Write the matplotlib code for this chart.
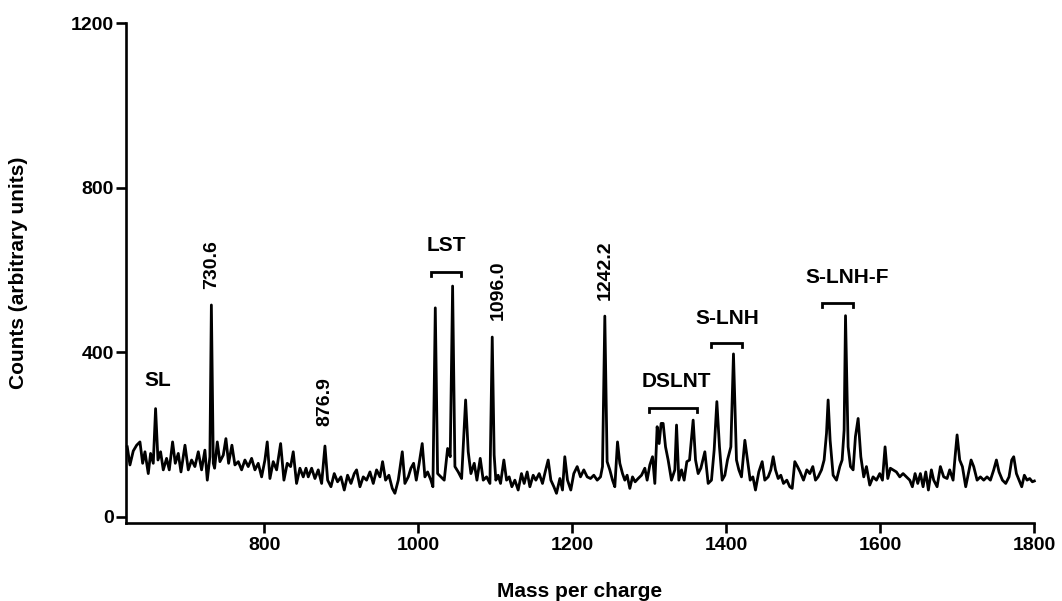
import matplotlib
matplotlib.use("Agg")
import matplotlib.pyplot as plt

plt.rcParams['font.family'] = ['Liberation Sans', 'DejaVu Sans']
plt.rcParams['font.weight'] = 'bold'

# ---- spectrum (mass per charge, counts) ----
mz = [621.7, 625.2, 629.5, 633.9, 638.2, 641.7, 644.7, 649.0, 652.0, 655.5, 658.5, 661.6, 665.0, 668.5,
      672.8, 676.3, 680.6, 684.1, 688.0, 691.5, 696.7, 701.0, 705.3, 709.6, 714.0, 718.3, 722.6, 725.7,
      729.1, 731.0, 733.5, 735.2, 738.7, 742.1, 746.5, 749.9, 753.4, 757.7, 761.6, 766.0, 770.3, 774.6,
      778.9, 783.3, 787.6, 791.9, 796.3, 800.6, 803.6, 807.1, 811.4, 815.8, 821.0, 825.3, 829.6, 834.0,
      837.4, 841.7, 846.1, 850.4,
      854.0, 856.9, 861.3, 865.6, 869.9, 874.3, 878.6, 882.1, 886.4, 890.7, 895.0, 899.4, 903.7, 908.0,
      912.4, 916.7, 919.7, 924.1, 928.4, 932.7, 937.1, 941.4, 945.7, 950.1, 953.5, 957.4, 961.7, 966.1,
      969.5, 973.9, 979.1, 982.5, 986.9, 990.3, 993.8, 997.3, 1000.7, 1005.0, 1008.5, 1012.0, 1016.3,
      1018.9, 1022.0, 1025.0, 1029.3, 1033.6, 1038.0, 1041.4, 1044.5, 1047.5, 1051.8, 1056.2, 1061.4,
      1064.8, 1068.3, 1072.6, 1076.1, 1080.4, 1084.3, 1088.6, 1093.0, 1096.0, 1098.5, 1100.7,
      1103.7, 1106.8, 1111.1, 1114.6, 1118.0, 1121.5, 1125.4, 1129.7, 1134.0, 1137.5, 1141.4, 1144.9,
      1149.2, 1152.7, 1157.0, 1161.3, 1164.8, 1168.7, 1172.2, 1176.1, 1179.5, 1183.9, 1187.3, 1190.3,
      1193.8, 1198.1, 1202.0, 1206.4, 1210.7, 1215.0, 1219.4, 1223.7, 1228.0, 1232.4, 1236.7, 1239.3,
      1242.3, 1245.3, 1248.8, 1252.3, 1255.3, 1258.8, 1261.8, 1265.3, 1268.3, 1271.3, 1274.8, 1278.3,
      1281.7, 1285.6, 1290.0, 1294.3, 1297.3, 1300.8, 1304.3, 1307.3, 1310.3, 1312.9, 1315.5, 1318.1,
      1321.2, 1324.6, 1328.9, 1333.3,
      1335.5, 1338.5, 1342.0, 1345.4, 1348.9, 1352.4, 1357.1, 1360.2, 1363.6, 1367.1, 1372.3, 1376.6,
      1380.9, 1384.4, 1387.9, 1391.3, 1394.8, 1398.3, 1401.7, 1406.1, 1409.5, 1413.4, 1416.5, 1419.9,
      1424.3, 1427.7, 1431.2, 1434.7, 1438.1, 1442.4, 1446.8, 1450.2, 1454.6, 1458.0, 1461.1, 1464.1,
      1467.6, 1471.0, 1474.5, 1478.8, 1482.7, 1485.8, 1489.2, 1492.7, 1496.1, 1500.5, 1504.8, 1508.7,
      1512.6, 1516.1, 1519.5, 1523.9, 1527.3, 1530.4, 1532.5, 1535.1, 1539.0, 1543.4, 1547.7, 1550.7,
      1553.3, 1555.1, 1558.5, 1561.6, 1565.0, 1568.0, 1571.5, 1575.0, 1578.8,
      1582.3, 1586.6, 1590.9, 1595.3, 1599.6, 1603.1, 1606.5, 1610.0, 1613.4, 1616.9, 1621.2, 1625.6,
      1629.9, 1634.2, 1638.6, 1642.0, 1645.5, 1649.0, 1652.4, 1655.9, 1659.4, 1662.8, 1666.7, 1669.7,
      1674.1, 1678.4, 1682.7, 1687.1, 1690.5, 1694.9, 1697.5, 1700.1, 1703.5, 1707.0, 1711.3, 1714.8,
      1718.3, 1721.7, 1726.1, 1730.4, 1734.7, 1739.0, 1743.4, 1747.7, 1751.2, 1754.6, 1759.0, 1763.3,
      1767.6, 1771.1, 1773.7, 1777.2, 1780.6, 1784.1, 1787.5, 1791.0, 1794.5, 1797.9, 1800.5]

counts = [170, 126, 160, 174, 182, 130, 158, 105, 154, 130, 263, 138, 158, 114,
          142, 114, 182, 130, 154, 109, 174, 114, 138, 122, 158, 114, 162, 89,
          146, 515, 130, 118, 182, 134, 150, 190, 130, 174, 126, 134, 114, 138,
          122, 142, 114, 130, 97, 138, 182, 93, 134, 114, 178, 89, 130, 122,
          158, 81, 118, 97,
          118, 97, 118, 93, 114, 81, 172, 89, 73, 105, 85, 97, 65, 101,
          81, 105, 114, 73, 97, 89, 109, 81, 114, 97, 134, 89, 101, 69,
          57, 89, 158, 81, 97, 118, 130, 89, 126, 178, 97, 109, 89,
          73, 508, 105, 97, 89, 166, 146, 561, 122, 109, 93, 284,
          158, 105, 130, 89, 142, 89, 97, 81, 437, 150, 89,
          101, 81, 138, 89, 97, 73, 89, 65, 105, 81, 109, 73,
          101, 89, 105, 81, 109, 138, 89, 73, 57, 93, 65, 146,
          89, 65, 105, 122, 97, 114, 97, 93, 101, 89, 97, 122,
          488, 134, 114, 89, 73, 182, 130, 105, 89, 101, 69, 97,
          85, 93, 101, 118, 89, 126, 146, 81, 219, 178, 227, 227,
          170, 138, 89, 114,
          223, 89, 114, 89, 134, 138, 235, 138, 105, 118, 158, 81,
          89, 162, 280, 170, 89, 101, 138, 170, 396, 138, 114, 97,
          186, 138, 89, 97, 65, 109, 134, 89, 97, 114, 146, 114,
          93, 101, 81, 89, 73, 69, 134, 122, 109, 89, 114, 105,
          122, 89, 97, 114, 138, 203, 284, 186, 101, 89, 122, 138,
          211, 489, 170, 122, 114, 195, 239, 146, 97,
          122, 77, 97, 89, 105, 89, 170, 93, 118, 114, 109, 97,
          105, 97, 89, 73, 105, 81, 105, 73, 109, 65, 114, 89,
          73, 122, 97, 93, 114, 89, 146, 199, 138, 122, 73, 105,
          138, 122, 89, 97, 89, 97, 89, 114, 138, 109, 89, 81,
          97, 138, 146, 105, 89, 73, 101, 89, 93, 85, 87]

# ---- annotations ----
group_names = ['LST', 'DSLNT', 'S-LNH', 'S-LNH-F']
bracket_start = [1016, 1300, 1380, 1525]
bracket_end = [1055, 1362, 1420, 1565]
bracket_level = [595, 264, 423, 521]
group_label_x = [1036, 1335, 1402, 1557]
group_label_y = [660, 328, 482, 583]

single_names = ['SL']
single_x = [662]
single_y = [332]

peak_texts = ['730.6', '876.9', '1096.0', '1242.2']
peak_text_x = [731, 878.5, 1103.5, 1242.3]
peak_text_y = [553, 220, 478, 527]

x_ticks = [800, 1000, 1200, 1400, 1600, 1800]
y_ticks = [0, 400, 800, 1200]

fig = plt.figure(figsize=(10.62, 6.01), dpi=100)
ax = fig.add_axes([0.1186, 0.1306, 0.8550, 0.8306])
ax.plot(mz, counts, color='black', lw=2.0, solid_joinstyle='round', clip_on=False)

ax.set_xlim(620, 1800)
ax.set_ylim(-14, 1200)
ax.set_xticks(x_ticks)
ax.set_yticks(y_ticks)
for s in ['top', 'right']:
    ax.spines[s].set_visible(False)
for s in ['left', 'bottom']:
    ax.spines[s].set_linewidth(1.9)
ax.tick_params(axis='y', width=1.9, length=7.5, labelsize=14, pad=1)
ax.tick_params(axis='x', width=1.9, length=7.5, labelsize=14, pad=3)
for lab in ax.get_xticklabels() + ax.get_yticklabels():
    lab.set_fontweight('bold')

ax.set_xlabel('Mass per charge', fontsize=15, fontweight='bold', labelpad=20)
ax.set_ylabel('Counts (arbitrary units)', fontsize=15, fontweight='bold', labelpad=31)

fs_group = 15
fs_num = 14
for name, x0, x1, lvl, lx, ly in zip(group_names, bracket_start, bracket_end, bracket_level,
                                     group_label_x, group_label_y):
    drop = 10
    ax.plot([x0, x0, x1, x1], [lvl - drop, lvl, lvl, lvl - drop], color='black', lw=2.0,
            solid_joinstyle='miter')
    ax.text(lx, ly, name, ha='center', va='center', fontsize=fs_group, fontweight='bold')

for name, x, y in zip(single_names, single_x, single_y):
    ax.text(x, y, name, ha='center', va='center', fontsize=fs_group, fontweight='bold')

for t, x, y in zip(peak_texts, peak_text_x, peak_text_y):
    ax.text(x, y, t, rotation=90, ha='center', va='bottom', fontsize=fs_num, fontweight='bold')

fig.savefig('out.png', dpi=100)
